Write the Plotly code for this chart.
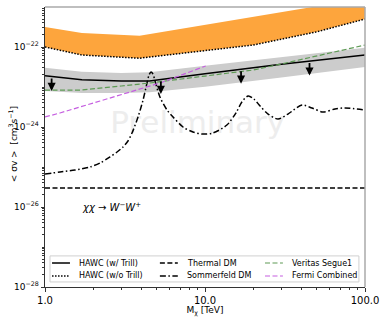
import numpy as np
import plotly.graph_objects as go

# ---------------- data ----------------
mass_band = [1.0, 1.7, 3.9, 10.0, 20.0, 50.0, 100.0]
wo_trill_low = [1.0e-22, 6.31e-23, 5.25e-23, 7.94e-23, 1.12e-22, 2.4e-22, 5.01e-22]
wo_trill_high = [3.16e-22, 2.24e-22, 1.9e-22, 3.55e-22, 5.62e-22, 1.05e-21, 1.66e-21]

mass_hawc = [1.0, 1.7, 3.0, 4.5, 10.0, 20.0, 30.0, 100.0]
w_trill = [1.91e-23, 1.51e-23, 1.41e-23, 1.41e-23, 2.14e-23, 3.02e-23, 3.72e-23, 6.31e-23]
w_trill_high = [3.02e-23, 2.4e-23, 2.24e-23, 2.34e-23, 3.39e-23, 4.57e-23, 5.5e-23, 9.55e-23]
w_trill_low = [7.94e-24, 7.08e-24, 7.08e-24, 7.41e-24, 1.02e-23, 1.41e-23, 1.74e-23, 3.16e-23]

mass_veritas = [1.0, 1.7, 3.0, 4.5, 10.0, 20.0, 30.0, 50.0, 100.0]
veritas = [8.4e-24, 8.4e-24, 1.06e-23, 1.26e-23, 1.88e-23, 2.66e-23, 3.76e-23, 5.96e-23, 1.12e-22]

mass_fermi = [1.0, 1.24, 2.21, 5.23, 10.1]
fermi = [1.78e-24, 2.24e-24, 4.47e-24, 1.26e-23, 3.35e-23]

mass_thermal = [1.0, 100.0]
thermal = [3.0e-26, 3.0e-26]

mass_sommer = [1.0, 1.241, 1.54, 1.911, 2.21, 2.549, 2.82, 3.073, 3.30, 3.498, 3.814, 4.10,
               4.34, 4.47, 4.60, 4.73, 4.87, 5.23, 5.79, 6.31, 7.29, 8.41, 9.58, 11.2,
               13.7, 15.6, 17.0, 18.6, 20.2, 22.1, 24.8, 28.6, 33.0, 40.4, 46.6, 54.6,
               64.9, 75.0, 100.0]
sommer = [6.68e-26, 7.5e-26, 8.4e-26, 1.0e-25, 1.26e-25, 1.78e-25, 2.37e-25, 3.16e-25,
          4.47e-25, 7.08e-25, 1.78e-24, 4.73e-24, 1.26e-23, 2.0e-23, 2.37e-23, 2.11e-23,
          1.41e-23, 5.6e-24, 2.66e-24, 1.78e-24, 1.0e-24, 7.5e-25, 6.68e-25, 7.08e-25,
          1.12e-24, 2.24e-24, 4.22e-24, 5.96e-24, 5.0e-24, 3.35e-24, 2.11e-24, 1.58e-24,
          2.11e-24, 3.55e-24, 2.99e-24, 2.37e-24, 2.82e-24, 2.99e-24, 2.66e-24]

arrow_mass = [1.1, 5.3, 16.8, 45.0]

y_major = [1e-28, 1e-26, 1e-24, 1e-22]
y_major_text = ["10<sup>\u221228</sup>", "10<sup>\u221226</sup>",
                "10<sup>\u221224</sup>", "10<sup>\u221222</sup>"]
x_major = [1, 10, 100]
x_major_text = ["1.0", "10.0", "100.0"]

legend_names = ["HAWC (w/ Trill)", "HAWC (w/o Trill)", "Thermal DM",
                "Sommerfeld DM", "Veritas Segue1", "Fermi Combined"]

FONT = "DejaVu Sans"
GREEN = "#5e9a55"
MAGENTA = "#c55ee0"
DASH = "5px,2.5px"
DASHDOT = "6px,2.5px,1.5px,2.5px"
DOT = "1.5px,1.5px"

styles = [
    dict(color="black", width=1.5, dash="solid"),
    dict(color="black", width=1.5, dash=DOT),
    dict(color="black", width=1.5, dash=DASH),
    dict(color="black", width=1.5, dash=DASHDOT),
    dict(color=GREEN, width=1.2, dash=DASH),
    dict(color=MAGENTA, width=1.2, dash=DASH),
]

fig = go.Figure()

# watermark (drawn first, behind everything)
fig.add_trace(go.Scatter(x=[9.0], y=[1.12e-24], mode="text", text=["Preliminary"],
                         textfont=dict(family=FONT, size=31, color="#ededed"),
                         showlegend=False, hoverinfo="skip"))

# orange band (HAWC w/o Trill)
fig.add_trace(go.Scatter(x=mass_band, y=wo_trill_high, mode="lines",
                         line=dict(width=0, color="#fda53d"), showlegend=False, hoverinfo="skip"))
fig.add_trace(go.Scatter(x=mass_band, y=wo_trill_low, mode="lines", fill="tonexty",
                         fillcolor="#fda53d", line=dict(width=0), showlegend=False, hoverinfo="skip"))

# gray band (HAWC w/ Trill)
fig.add_trace(go.Scatter(x=mass_hawc, y=w_trill_high, mode="lines",
                         line=dict(width=0, color="#cccccc"), showlegend=False, hoverinfo="skip"))
fig.add_trace(go.Scatter(x=mass_hawc, y=w_trill_low, mode="lines", fill="tonexty",
                         fillcolor="#cccccc", line=dict(width=0), showlegend=False, hoverinfo="skip"))

# lines
series = [
    (mass_hawc, w_trill, styles[0], "linear"),
    (mass_band, wo_trill_low, styles[1], "linear"),
    (mass_thermal, thermal, styles[2], "linear"),
    (mass_sommer, sommer, styles[3], "spline"),
    (mass_veritas, veritas, styles[4], "linear"),
    (mass_fermi, fermi, styles[5], "linear"),
]
for (xs, ys, st, shp), nm in zip(series, legend_names):
    ln = dict(st)
    ln["shape"] = shp
    if shp == "spline":
        ln["smoothing"] = 0.8
    fig.add_trace(go.Scatter(x=xs, y=ys, mode="lines", name=nm, line=ln, showlegend=False))

# downward arrows from the HAWC (w/ Trill) curve
lm = np.log10(mass_hawc)
lw = np.log10(w_trill)
for m in arrow_mass:
    ly = np.interp(np.log10(m), lm, lw)
    fig.add_annotation(x=np.log10(m), y=ly - 0.36, ax=0, ay=-14, xref="x", yref="y",
                       showarrow=True, arrowhead=2, arrowsize=0.9, arrowwidth=1.8,
                       arrowcolor="black", text="")

# process label
fig.add_annotation(x=np.log10(1.65), y=-26.0, xref="x", yref="y", xanchor="left",
                   yanchor="middle", showarrow=False,
                   text="<i>\u03c7\u03c7</i> \u2192 <i>W<sup>\u2212</sup>W<sup>+</sup></i>",
                   font=dict(family=FONT, size=10, color="black"))

# y-axis title
fig.add_annotation(x=-0.1, y=0.51, xref="paper", yref="paper", xanchor="center",
                   yanchor="middle", showarrow=False, textangle=-90,
                   text="< \u03c3v >  [cm<sup>3</sup>s<sup>\u22121</sup>]",
                   font=dict(family=FONT, size=9, color="black"))

# top / right frame in light gray
fig.add_shape(type="line", xref="paper", yref="paper", x0=0, x1=1, y0=1, y1=1,
              line=dict(color="#aaaaaa", width=1.5))
fig.add_shape(type="line", xref="paper", yref="paper", x0=1, x1=1, y0=0, y1=1,
              line=dict(color="#aaaaaa", width=1.5))

# manual legend (matplotlib style, 3 columns filled column-wise)
fig.add_shape(type="rect", xref="paper", yref="paper", x0=0.0156, x1=0.981,
              y0=0.018, y1=0.111, line=dict(color="#d0d0d0", width=1),
              fillcolor="rgba(255,255,255,0.85)", layer="above")
col_x = [0.022, 0.359, 0.6875]
row_y = [0.0857, 0.0393]
sample_len = 0.056
for i, (nm, st) in enumerate(zip(legend_names, styles)):
    c, r = divmod(i, 2)
    x0 = col_x[c]
    y0 = row_y[r]
    fig.add_shape(type="line", xref="paper", yref="paper", x0=x0, x1=x0 + sample_len,
                  y0=y0, y1=y0, line=dict(color=st["color"], width=st["width"], dash=st["dash"]),
                  layer="above")
    fig.add_annotation(x=x0 + sample_len + 0.021, y=y0, xref="paper", yref="paper",
                       xanchor="left", yanchor="middle", showarrow=False, text=nm,
                       font=dict(family=FONT, size=8, color="black"))

y_minor = []
for d in range(-28, -21):
    for k in range(1, 10):
        if k == 1 and d % 2 == 0:
            continue
        y_minor.append(k * 10.0 ** d)
x_minor = [k * 10.0 ** d for d in range(0, 2) for k in range(2, 10)]

fig.update_xaxes(type="log", range=[0, 2], tickmode="array", tickvals=x_major,
                 ticktext=x_major_text, ticks="outside", ticklen=3.5, tickcolor="#333",
                 showgrid=False, zeroline=False, showline=True, linecolor="#333", linewidth=1,
                 tickfont=dict(family=FONT, size=10, color="black"), automargin=False,
                 minor=dict(tickmode="array", tickvals=x_minor, ticks="outside", ticklen=2,
                            tickcolor="#333", showgrid=False),
                 title=dict(text="M<sub>\u03c7</sub> [TeV]", font=dict(family=FONT, size=9, color="black"),
                            standoff=2))
fig.update_yaxes(type="log", range=[-28, -21], tickmode="array", tickvals=y_major,
                 ticktext=y_major_text, ticks="outside", ticklen=3.5, tickcolor="#333",
                 showgrid=False, zeroline=False, showline=True, linecolor="#333", linewidth=1,
                 tickfont=dict(family=FONT, size=9, color="black"), automargin=False,
                 minor=dict(tickmode="array", tickvals=y_minor, ticks="outside", ticklen=2,
                            tickcolor="#333", showgrid=False))

fig.update_layout(
    width=382, height=318,
    margin=dict(l=45, r=17, t=7, b=31),
    plot_bgcolor="white", paper_bgcolor="white",
    showlegend=False,
)

fig.write_html("out.html", config={"displayModeBar": False},
               post_script="document.body.style.margin='0px';")
